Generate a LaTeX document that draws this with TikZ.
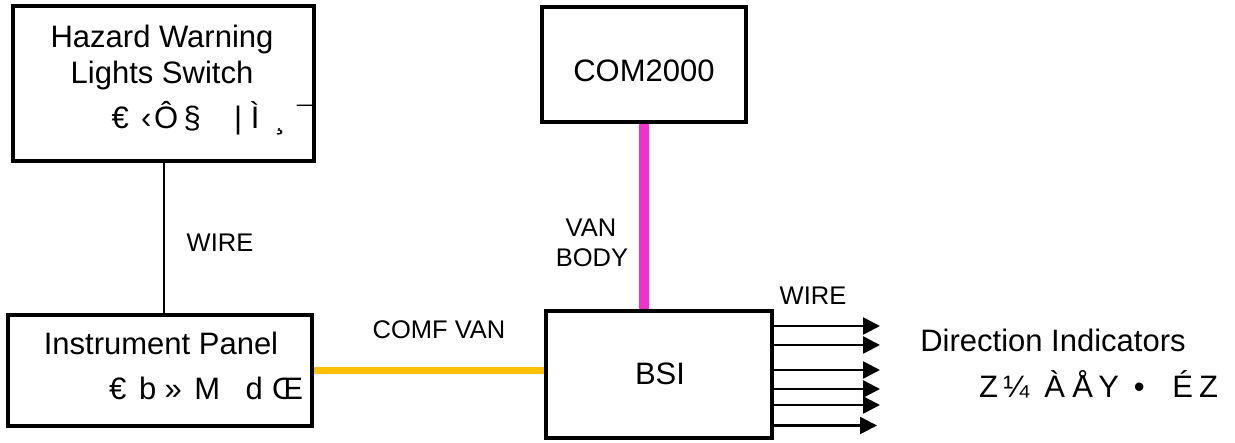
\documentclass[tikz,border=0pt]{standalone}
\usepackage{fontspec}
\setmainfont{Liberation Sans}
\usetikzlibrary{arrows.meta}
\definecolor{vanmag}{HTML}{EE33CC}
\definecolor{comfyel}{HTML}{FFC000}
\newcommand\glyphat[1]{\makebox[0pt]{#1}}
\tikzset{
  box/.style={draw, line width=4pt, inner sep=0pt, fill=white},
  big/.style={font=\fontsize{31}{36}\selectfont, inner sep=0pt, anchor=base},
  small/.style={font=\fontsize{25.5}{30}\selectfont, inner sep=0pt, anchor=base},
  thinwire/.style={line width=2pt},
  arr/.style={line width=2.5pt, -{Triangle[length=17pt,width=17pt]}},
}
\begin{document}
\begin{tikzpicture}[x=1pt,y=-1pt]
\useasboundingbox (0,0) rectangle (1235,443);
% boxes
\node[box, minimum width=301pt, minimum height=155pt] (haz) at (163.5,83.5) {};
\node[box, minimum width=304pt, minimum height=111pt] (instr) at (160,370.5) {};
\node[box, minimum width=204pt, minimum height=115pt] (com) at (644,64.5) {};
\node[box, minimum width=226pt, minimum height=127pt] (bsi) at (659,374.5) {};
% connectors
\draw[thinwire] (haz.south) -- (haz.south |- instr.north);
\draw[line width=7pt, comfyel] (instr.east) -- (instr.east -| bsi.west);
\draw[line width=10pt, vanmag] (com.south) -- (com.south |- bsi.north);
% arrows
\coordinate (a1) at (880,326);
\coordinate (a2) at (880,345);
\coordinate (a3) at (880,370);
\coordinate (a4) at (880,389);
\coordinate (a5) at (880,405);
\coordinate (a6) at (877,425.5);
\foreach \c in {a1,a2,a3,a4,a5,a6}{
  \draw[arr] (\c -| bsi.east) -- (\c);
}
% box texts
\node[big] (hazt1) at (162,48) {Hazard Warning};
\node[big] (hazt2) at (162,84) {Lights Switch};
\node[big, anchor=base west] (hazt3) at (120,129) {\glyphat{€}\hspace{26pt}\glyphat{‹}\hspace{20pt}\glyphat{Ô}\hspace{26pt}\glyphat{§}\hspace{46pt}\glyphat{|}\hspace{17pt}\glyphat{Ì}\hspace{25pt}\glyphat{¸}\hspace{25.5pt}\glyphat{¯}};
\node[big] (instt1) at (161,355) {Instrument Panel};
\node[big, anchor=base west] (instt2) at (117.5,400) {\glyphat{€}\hspace{30pt}\glyphat{b}\hspace{25.5pt}\glyphat{»}\hspace{34pt}\glyphat{M}\hspace{47pt}\glyphat{d}\hspace{33.5pt}\glyphat{Œ}};
\node[big] (comt) at (644,82) {COM2000};
\node[big] (bsit) at (660,385) {BSI};
% labels
\node[small] (wl) at (220,252) {WIRE};
\node[small] (comf) at (439,339) {COMF VAN};
\node[small] (van) at (591,237) {VAN};
\node[small] (body) at (592,267) {BODY};
\node[small] (wr) at (813,305) {WIRE};
\node[big] (dir1) at (1053,352) {Direction Indicators};
\node[big, anchor=base west] (dir2) at (988.5,398) {\glyphat{Z}\hspace{27.5pt}\glyphat{¼}\hspace{38.5pt}\glyphat{À}\hspace{28pt}\glyphat{Å}\hspace{26pt}\glyphat{Y}\hspace{30.5pt}\glyphat{•}\hspace{43.5pt}\glyphat{É}\hspace{26pt}\glyphat{Z}};
\end{tikzpicture}
\end{document}
